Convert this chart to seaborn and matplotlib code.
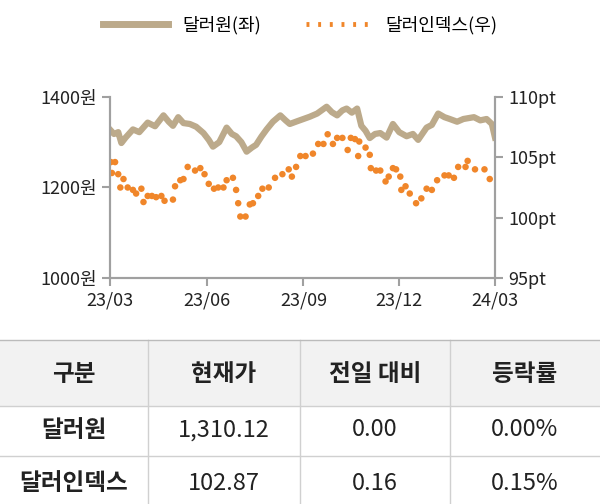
import pandas as pd
import numpy as np
import matplotlib
matplotlib.use("Agg")
import matplotlib.pyplot as plt
import seaborn as sns

plt.rcParams["font.family"] = ["Noto Sans CJK JP", "Noto Sans CJK KR", "DejaVu Sans"]

START = pd.Timestamp("2023-03-01")

# days since 2023-03-01 and values
krw_days = [0, 4, 8, 11, 15, 22, 28, 36, 43, 51, 56, 60, 65, 70, 76, 82, 89, 94, 98, 104, 111, 116,
            120, 125, 130, 135, 139, 144, 149, 155, 162, 167, 171, 178, 184, 190, 197, 206, 211,
            216, 221, 225, 230, 235, 239, 243, 247, 252, 257, 263, 269, 275, 282, 288, 293, 301,
            306, 312, 318, 323, 330, 336, 346, 352, 358, 363, 366]
krw_vals = [1328, 1318, 1322, 1298, 1310, 1328, 1322, 1343, 1335, 1359, 1345, 1336, 1355, 1342,
            1340, 1334, 1320, 1305, 1290, 1300, 1332, 1318, 1313, 1300, 1279, 1288, 1294, 1312,
            1328, 1345, 1359, 1348, 1340, 1346, 1351, 1356, 1363, 1378, 1366, 1359, 1370, 1374,
            1365, 1374, 1336, 1325, 1309, 1318, 1320, 1310, 1340, 1322, 1313, 1318, 1305, 1332,
            1338, 1363, 1355, 1351, 1345, 1351, 1355, 1348, 1351, 1340, 1310]

dxy_days = [1, 2, 5, 8, 10, 13, 17, 22, 25, 30, 32, 36, 40, 44, 49, 52, 60, 62, 67, 70, 74, 81,
            86, 90, 94, 99, 103, 108, 111, 117, 120, 122, 124, 129, 133, 136, 141, 145, 151,
            157, 164, 170, 173, 177, 181, 186, 193, 198, 203, 207, 212, 216, 221, 226, 229,
            233, 236, 237, 243, 247, 248, 253, 257, 262, 265, 269, 272, 276, 277, 281, 285,
            291, 296, 301, 306, 311, 318, 322, 327, 331, 338, 340, 347, 356, 361]
dxy_vals = [104.6, 103.7, 104.6, 103.6, 102.5, 103.2, 102.5, 102.3, 102.0, 102.4, 101.3, 101.8,
            101.8, 101.7, 101.8, 101.4, 101.5, 102.6, 103.1, 103.2, 104.2, 103.9, 104.1, 103.6,
            102.8, 102.4, 102.5, 102.5, 103.1, 103.3, 102.3, 101.2, 100.1, 100.1, 101.1, 101.2,
            101.8, 102.4, 102.5, 103.3, 103.6, 104.0, 103.4, 104.2, 105.1, 105.1, 105.3, 106.1,
            106.1, 106.9, 106.1, 106.6, 106.6, 105.6, 106.6, 106.5, 105.1, 106.3, 105.8, 105.2,
            104.1, 103.9, 103.9, 103.0, 103.4, 104.1, 104.0, 103.4, 102.3, 102.6, 102.0, 101.2,
            101.6, 102.4, 102.3, 103.1, 103.5, 103.5, 103.3, 104.2, 104.2, 104.7, 104.0, 104.0, 103.2]

tick_dates = ["2023-03-01", "2023-06-01", "2023-09-01", "2023-12-01", "2024-03-01"]
tick_labels = ["23/03", "23/06", "23/09", "23/12", "24/03"]

table_header = ["구분", "현재가", "전일 대비", "등락률"]
table_rows = [["달러원", "1,310.12", "0.00", "0.00%"],
              ["달러인덱스", "102.87", "0.16", "0.15%"]]

krw = pd.DataFrame({"date": START + pd.to_timedelta(krw_days, unit="D"), "v": krw_vals})
dxy = pd.DataFrame({"date": START + pd.to_timedelta(dxy_days, unit="D"), "v": dxy_vals}).sort_values("date")

TAN = "#bcaa8b"
ORANGE = "#f0862a"
GRAY = "#a0a0a0"

fig = plt.figure(figsize=(6, 5.04), dpi=100)
ax = fig.add_axes([0.183, 0.448, 0.642, 0.36])
ax2 = ax.twinx()

sns.lineplot(data=krw, x="date", y="v", ax=ax, color=TAN, lw=4.5, legend=False)
sns.scatterplot(data=dxy, x="date", y="v", ax=ax2, color=ORANGE, s=22, edgecolor="none", legend=False)

ax.set_ylim(1000, 1400)
ax2.set_ylim(95, 110)
ax.set_xlim(pd.Timestamp("2023-03-01"), pd.Timestamp("2024-03-01"))
ax.set_yticks([1000, 1200, 1400])
ax.set_yticklabels(["1000원", "1200원", "1400원"])
ax2.set_yticks([95, 100, 105, 110])
ax2.set_yticklabels(["95pt", "100pt", "105pt", "110pt"])
ax.set_xticks(pd.to_datetime(tick_dates))
ax.set_xticklabels(tick_labels)
for a in (ax, ax2):
    a.set_xlabel("")
    a.set_ylabel("")
    a.spines["top"].set_visible(False)
    for s in ("left", "right", "bottom"):
        a.spines[s].set_color(GRAY)
        a.spines[s].set_linewidth(1.5)
    a.tick_params(colors=GRAY, labelcolor="#222222", labelsize=13, length=6, width=1.5)

# legend
fig.legend(handles=[plt.Line2D([], [], color=TAN, lw=5),
                    plt.Line2D([], [], color=ORANGE, lw=3.5, ls=(0, (0.6, 1.8)))],
           labels=["달러원(좌)", "달러인덱스(우)"], loc="upper center", bbox_to_anchor=(0.5, 1.0),
           ncol=2, frameon=False, fontsize=13, handlelength=3.6, columnspacing=2.5)

# table
tax = fig.add_axes([0, 0, 1, 1], zorder=-1)
tax.set_xlim(0, 600)
tax.set_ylim(504, 0)
tax.axis("off")
tax.add_patch(plt.Rectangle((0, 340), 600, 66, color="#f2f2f2", lw=0))
col_x = [74, 224, 375, 525]
row_y = [374, 430, 483]
for x, t in zip(col_x, table_header):
    tax.text(x, row_y[0], t, ha="center", va="center", fontsize=17, fontweight="bold", color="#222222")
for r, row in enumerate(table_rows):
    for c, (x, t) in enumerate(zip(col_x, row)):
        tax.text(x, row_y[r + 1], t, ha="center", va="center", fontsize=17,
                 fontweight="bold" if c == 0 else "normal", color="#222222")
for xs in (148, 300, 450):
    tax.plot([xs, xs], [340, 504], color="#d0d0d0", lw=1)
for ys in (406, 456):
    tax.plot([0, 600], [ys, ys], color="#d0d0d0", lw=1)
tax.plot([0, 600], [340, 340], color="#bbbbbb", lw=1)

fig.savefig("out.png", dpi=100)
